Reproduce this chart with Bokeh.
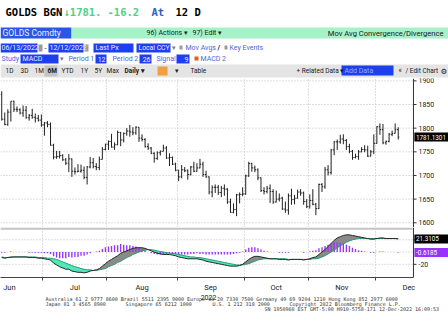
import numpy as np
import pandas as pd
from bokeh.plotting import figure
from bokeh.layouts import column
from bokeh.models import Range1d, FixedTicker, Grid, ColumnDataSource
from bokeh.core.properties import value
from bokeh.embed import file_html
from bokeh.resources import INLINE

# ---------------- data ----------------
dates = pd.bdate_range("2022-06-13", "2022-12-12")

opens = [1871, 1819, 1808, 1834, 1857, 1840, 1839, 1832, 1838, 1822, 1827, 1823, 1821, 1817,
         1807, 1811, 1808, 1764, 1739, 1740, 1742, 1733, 1726, 1735, 1709, 1708, 1709, 1711, 1696, 1718, 1727, 1719, 1717, 1734, 1755,
         1766, 1772, 1760, 1765, 1791, 1775, 1789, 1794, 1792, 1790, 1802, 1779, 1776, 1761, 1758, 1747, 1736, 1748, 1751, 1758, 1737, 1738, 1724,
         1711, 1697, 1712, 1710, 1702, 1718, 1709, 1716, 1724, 1702, 1697, 1665, 1675, 1675, 1664, 1673, 1671, 1644, 1622, 1628, 1659, 1660,
         1661, 1699, 1725, 1716, 1712, 1695, 1668, 1666, 1673, 1666, 1644, 1650, 1652, 1629, 1627, 1657, 1649, 1652, 1665, 1663, 1645,
         1634, 1647, 1639, 1630, 1681, 1676, 1712, 1706, 1754, 1771, 1771, 1777, 1774, 1761, 1751, 1738, 1740, 1750, 1755, 1754, 1741, 1750,
         1768, 1803, 1797, 1769, 1772, 1787, 1789, 1797]
highs = [1878, 1833, 1840, 1857, 1858, 1846, 1842, 1848, 1847, 1830, 1841, 1831, 1828, 1829,
         1813, 1815, 1812, 1767, 1752, 1752, 1745, 1737, 1745, 1736, 1717, 1724, 1723, 1719, 1720, 1739, 1737, 1726, 1740, 1760, 1767,
         1774, 1788, 1770, 1795, 1792, 1791, 1800, 1807, 1802, 1804, 1802, 1787, 1779, 1768, 1760, 1749, 1751, 1753, 1765, 1762, 1747, 1740, 1727,
         1712, 1722, 1718, 1713, 1720, 1729, 1726, 1735, 1729, 1710, 1698, 1679, 1681, 1680, 1678, 1681, 1673, 1651, 1641, 1661, 1664, 1675,
         1702, 1729, 1727, 1721, 1715, 1696, 1675, 1678, 1681, 1671, 1668, 1662, 1655, 1645, 1662, 1672, 1659, 1670, 1671, 1666, 1650,
         1660, 1671, 1642, 1683, 1684, 1718, 1722, 1756, 1773, 1776, 1786, 1787, 1777, 1767, 1754, 1746, 1754, 1760, 1764, 1763, 1754, 1787,
         1804, 1810, 1809, 1774, 1790, 1795, 1810, 1802]
lows = [1816, 1806, 1805, 1814, 1834, 1834, 1829, 1824, 1820, 1816, 1820, 1812, 1814, 1803,
        1784, 1802, 1763, 1734, 1735, 1736, 1731, 1722, 1707, 1697, 1702, 1707, 1706, 1692, 1681, 1715, 1715, 1711, 1711, 1734, 1753,
        1754, 1759, 1754, 1764, 1762, 1770, 1784, 1782, 1785, 1786, 1771, 1772, 1759, 1754, 1745, 1727, 1733, 1742, 1751, 1735, 1720, 1722, 1709,
        1688, 1694, 1707, 1691, 1700, 1707, 1708, 1715, 1697, 1695, 1660, 1654, 1663, 1659, 1654, 1657, 1640, 1621, 1620, 1614, 1641, 1656,
        1659, 1697, 1708, 1707, 1690, 1665, 1660, 1662, 1642, 1640, 1643, 1645, 1627, 1621, 1617, 1638, 1639, 1651, 1657, 1638, 1631,
        1630, 1637, 1616, 1629, 1665, 1672, 1700, 1702, 1743, 1754, 1767, 1766, 1754, 1747, 1733, 1736, 1733, 1749, 1749, 1739, 1740, 1745,
        1767, 1786, 1766, 1765, 1770, 1783, 1789, 1776]
closes = [1819, 1808, 1834, 1857, 1840, 1839, 1832, 1838, 1822, 1827, 1823, 1821, 1817, 1807,
          1811, 1808, 1764, 1739, 1740, 1742, 1733, 1726, 1735, 1709, 1708, 1709, 1711, 1696, 1718, 1727, 1719, 1717, 1734, 1755, 1766,
          1772, 1760, 1765, 1791, 1775, 1789, 1794, 1792, 1790, 1802, 1779, 1776, 1761, 1758, 1747, 1736, 1748, 1751, 1758, 1737, 1738, 1724, 1711,
          1697, 1712, 1710, 1702, 1718, 1709, 1716, 1724, 1702, 1697, 1665, 1675, 1675, 1664, 1673, 1671, 1644, 1622, 1628, 1659, 1660, 1661,
          1699, 1725, 1716, 1712, 1695, 1668, 1666, 1673, 1666, 1644, 1650, 1652, 1629, 1627, 1657, 1649, 1652, 1665, 1663, 1645, 1634,
          1647, 1639, 1630, 1681, 1676, 1712, 1706, 1754, 1771, 1771, 1777, 1774, 1761, 1751, 1738, 1740, 1750, 1755, 1754, 1741, 1750, 1768,
          1803, 1797, 1769, 1772, 1787, 1789, 1797, 1781.13]

macd_line = [-9, -10, -9, -8, -8, -8, -8, -8, -8, -9, -9, -9, -10, -10, -11, -12,
             -13, -18, -21, -24, -26, -28, -28, -31, -32, -33, -33, -34, -33, -31, -30,
             -29, -27, -23, -19, -15, -12, -9, -6, -2, 0, 2, 4, 6, 7, 7,
             7, 6, 4, 2, 0, -2, -3, -4, -4, -4, -5, -6, -8, -9, -10,
             -11, -11, -11, -11, -12, -13, -15, -16, -17, -18, -19, -20, -21, -22, -23,
             -23, -23, -22, -20, -16, -12, -9, -7, -7, -8, -9, -10, -11, -11, -11,
             -12, -12, -12, -13, -12, -12, -12, -12, -13, -12, -11, -9, -8, -4, 0,
             4, 9, 14, 19, 23, 25, 27, 28, 28, 27, 26, 25, 24, 23, 22,
             21, 21, 22, 23, 23, 22, 22, 22, 22, 21.3105]
signal_line = [-8, -9, -9, -9, -8, -8, -8, -8, -8, -8, -8, -8, -9, -9, -9, -10,
               -10, -11, -12, -14, -16, -18, -20, -22, -24, -25, -27, -28, -29, -29, -30,
               -30, -29, -28, -27, -24, -22, -20, -17, -15, -12, -9, -7, -4, -2, 0,
               2, 3, 4, 4, 3, 2, 1, 0, -1, -2, -2, -3, -4, -5, -6,
               -7, -8, -8, -9, -9, -10, -11, -12, -13, -14, -15, -16, -17, -18, -19,
               -20, -21, -21, -21, -20, -19, -17, -15, -13, -12, -11, -11, -11, -11, -11,
               -11, -11, -11, -12, -12, -12, -12, -12, -12, -12, -12, -11, -11, -10, -8,
               -6, -3, 0, 3, 7, 10, 13, 16, 18, 20, 21, 22, 22, 22, 22,
               22, 22, 22, 22, 22, 22, 22, 22, 22, 21.929]

month_labels = ["Jun", "Jul", "Aug", "Sep", "Oct", "Nov", "Dec"]
year_label = "2022"
price_ticks = [1600, 1650, 1700, 1750, 1800, 1850, 1900]
macd_ticks = [-20, 20]
last_price_text = "1781.1301"
last_macd_text = "21.3105"
last_hist_text = "-0.6185"

# ---------------- derived positions ----------------
n = len(closes)
idx = np.arange(n)
start = dates[0]
month_starts = pd.date_range("2022-06-01", "2023-01-01", freq="MS")
bounds = [float(np.busday_count(start.date(), d.date())) - 0.5 for d in month_starts]
centers = [(bounds[i] + bounds[i + 1]) / 2 for i in range(len(month_labels))]
inner_bounds = bounds[1:-1]

W = 448
PXW = 3.05                     # pixels per trading day
X0 = -0.4
AX = 135.0                     # x (in trading days) of the right value axis
xr = Range1d(X0, X0 + W / PXW)
SANS = "Roboto"
GRID = "#bdbdbd"
AXC = "#333333"

def right_axis(fig, ticks, y_lo, y_hi):
    fig.segment(x0=[AX], y0=[y_lo], x1=[AX], y1=[y_hi], line_color=AXC, line_width=1)
    fig.segment(x0=[AX] * len(ticks), y0=ticks, x1=[AX + 1.0] * len(ticks), y1=ticks,
                line_color=AXC, line_width=1)
    fig.text(x=[AX] * len(ticks), y=ticks, text=[str(t) for t in ticks], x_offset=5,
             text_font=value(SANS), text_font_size="7px", text_color="#222222",
             text_baseline="middle", text_align="left")

def hgrid(fig, ticks):
    fig.segment(x0=[X0] * len(ticks), y0=ticks, x1=[AX] * len(ticks), y1=ticks,
                line_color=GRID, line_dash="1 2", line_width=1)

def tag(fig, y, txt, color):
    fig.rect(x=[(AX + 0.3 + xr.end) / 2], y=[y], width=[xr.end - AX - 0.3], height=[9],
             height_units="screen", fill_color=color, line_color=None)
    fig.text(x=[AX], y=[y], text=[txt], x_offset=2.5, text_color="white",
             text_font=value(SANS), text_font_size="6.3px", text_baseline="middle", text_align="left")

# ---------------- header ----------------
h = figure(width=W, height=78, x_range=Range1d(0, W), y_range=Range1d(78, 0),
           output_backend="svg", toolbar_location=None, x_axis_location=None, y_axis_location=None,
           min_border=0, outline_line_color=None)
h.grid.visible = False

BLUE = "#1c3ff0"
boxes = [
    (0, 71, 27, 38, "#2a55e6"),
    (71, 448, 27, 38, "#a6f2c8"),
    (0, 37, 43, 52, BLUE), (38, 42, 44, 51, "#9a9a9a"),
    (48, 83, 43, 52, BLUE), (84, 88, 44, 51, "#9a9a9a"),
    (93, 133, 43, 52, BLUE), (136, 170, 43, 52, BLUE),
    (179, 182, 45, 49, "#9a9a9a"), (224, 227, 45, 49, "#9a9a9a"),
    (20, 58, 54, 63, BLUE), (95, 106, 54, 63, BLUE), (139, 151, 54, 63, BLUE), (176, 189, 54, 63, BLUE),
    (194, 198, 56, 60, "#e0601e"),
    (0, 448, 64, 77, "#e4e4e4"),
    (44, 57, 65, 76, "#c4c4c4"),
    (157, 167, 66, 75, "#f0a040"),
    (341, 393, 65, 75, BLUE),
]
for (x0, x1, y0, y1, c) in boxes:
    h.quad(left=[x0], right=[x1], top=[y0], bottom=[y1], fill_color=c, line_color=None)

LB = "#4a66e0"
DK = "#1a1a1a"
WT = "#e8eeff"
MONO = "DejaVu Sans Mono"
texts = [
    (5, 11.5, "GOLDS BGN", "black", "10.5px", MONO, "bold", "left"),
    (63, 11.5, "\u21931781.", "#4fcf86", "10.5px", MONO, "bold", "left"),
    (107, 11.5, "-16.2", "#4fcf86", "10.5px", MONO, "bold", "left"),
    (151, 11.5, "At", "#2f5fc4", "10.5px", MONO, "bold", "left"),
    (175, 11.5, "12 D", "black", "10.5px", MONO, "bold", "left"),
    (2, 32.5, "GOLDS Comdty", WT, "8.5px", SANS, "normal", "left"),
    (146, 32.5, "96) Actions \u25be", DK, "7px", SANS, "normal", "left"),
    (192, 32.5, "97) Edit \u25be", DK, "7px", SANS, "normal", "left"),
    (443, 32.5, "Mov Avg Convergence/Divergence", DK, "7.6px", SANS, "normal", "right"),
    (1, 47.5, "06/13/2022", WT, "7px", SANS, "normal", "left"),
    (44, 47.5, "-", DK, "7px", SANS, "normal", "left"),
    (49, 47.5, "12/12/2022", WT, "7px", SANS, "normal", "left"),
    (95, 47.5, "Last Px", WT, "7px", SANS, "normal", "left"),
    (138, 47.5, "Local CCY", WT, "6.8px", SANS, "normal", "left"),
    (171, 47.5, "\u25be", "#777777", "7px", SANS, "normal", "left"),
    (185, 47.5, "Mov Avgs", LB, "7px", SANS, "normal", "left"),
    (217, 47.5, "/", DK, "7px", SANS, "bold", "left"),
    (229, 47.5, "Key Events", LB, "7px", SANS, "normal", "left"),
    (1, 58.5, "Study", LB, "7px", SANS, "normal", "left"),
    (22, 58.5, "MACD", WT, "7px", SANS, "normal", "left"),
    (59, 58.5, "\u25be", "#777777", "7px", SANS, "normal", "left"),
    (68, 58.5, "Period 1", LB, "7px", SANS, "normal", "left"),
    (105, 58.5, "12", WT, "7px", SANS, "normal", "right"),
    (112, 58.5, "Period 2", LB, "7px", SANS, "normal", "left"),
    (150, 58.5, "26", WT, "7px", SANS, "normal", "right"),
    (156, 58.5, "Signal", LB, "7px", SANS, "normal", "left"),
    (188, 58.5, "9", WT, "7px", SANS, "normal", "right"),
    (200, 58.5, "MACD 2", LB, "7px", SANS, "normal", "left"),
    (5, 70.5, "1D", DK, "6.5px", SANS, "normal", "left"),
    (20, 70.5, "3D", DK, "6.5px", SANS, "normal", "left"),
    (34, 70.5, "1M", DK, "6.5px", SANS, "normal", "left"),
    (47, 70.5, "6M", DK, "6.5px", SANS, "bold", "left"),
    (61, 70.5, "YTD", DK, "6.5px", SANS, "normal", "left"),
    (80, 70.5, "1Y", DK, "6.5px", SANS, "normal", "left"),
    (94, 70.5, "5Y", DK, "6.5px", SANS, "normal", "left"),
    (106, 70.5, "Max", DK, "6.5px", SANS, "normal", "left"),
    (124, 70.5, "Daily \u25be", DK, "6.5px", SANS, "bold", "left"),
    (174, 70.5, "\u25be", DK, "6.5px", SANS, "normal", "left"),
    (190, 70.5, "Table", DK, "6.5px", SANS, "normal", "left"),
    (296, 70.5, "+ Related Data \u25be", DK, "6.5px", SANS, "normal", "left"),
    (344, 70.5, "Add Data", "#8fb0ff", "7px", SANS, "normal", "left"),
    (398, 70.5, "\u00ab", DK, "7px", SANS, "normal", "left"),
    (405, 70.5, "/ Edit Chart", DK, "6.5px", SANS, "normal", "left"),
    (440, 70.5, "\u2699", DK, "7.5px", "DejaVu Sans", "normal", "left"),
]
for (x, y, t, c, s, fnt, st, al) in texts:
    h.text(x=[x], y=[y], text=[t], text_color=c, text_font_size=s, text_font=value(fnt),
           text_font_style=st, text_align=al, text_baseline="middle")

# ---------------- price panel ----------------
PY = (1590, 1905)
p = figure(width=W, height=149, x_range=xr, y_range=Range1d(*PY),
           output_backend="svg", toolbar_location=None, x_axis_location=None, y_axis_location=None,
           min_border=0, outline_line_color=None)
p.grid.visible = False
p.add_layout(Grid(dimension=0, ticker=FixedTicker(ticks=inner_bounds),
                  grid_line_color=GRID, grid_line_dash="1 2"))
hgrid(p, price_ticks)

src = ColumnDataSource(dict(x=idx, o=opens, h=highs, l=lows, c=closes,
                            xl=idx - 0.38, xr=idx + 0.38))
BAR = "#202020"
p.segment(x0="x", y0="l", x1="x", y1="h", source=src, line_color=BAR, line_width=1)
p.segment(x0="xl", y0="o", x1="x", y1="o", source=src, line_color=BAR, line_width=1)
p.segment(x0="x", y0="c", x1="xr", y1="c", source=src, line_color=BAR, line_width=1)

right_axis(p, price_ticks, PY[0], PY[1])
tag(p, closes[-1], last_price_text, "black")

# ---------------- MACD panel ----------------
MY = (-41.5, 40)
m = figure(width=W, height=67, x_range=xr, y_range=Range1d(*MY),
           output_backend="svg", toolbar_location=None, y_axis_location=None,
           min_border_left=0, min_border_right=0, min_border_top=0, min_border_bottom=12,
           outline_line_color=None)
m.ygrid.visible = False
m.xgrid.ticker = FixedTicker(ticks=inner_bounds)
m.xgrid.grid_line_color = GRID
m.xgrid.grid_line_dash = "1 2"
hgrid(m, [-20, 0, 20])

macd_arr = np.array(macd_line, dtype=float)
sig_arr = np.array(signal_line, dtype=float)
top_arr = np.maximum(macd_arr, sig_arr)
hist_arr = macd_arr - sig_arr
msrc = ColumnDataSource(dict(x=idx, macd=macd_arr, sig=sig_arr, top=top_arr, hist=hist_arr))
m.varea(x="x", y1="sig", y2="top", source=msrc, fill_color="#8a8a8a")
m.varea(x="x", y1="macd", y2="top", source=msrc, fill_color="#4fe8b8")
m.vbar(x="x", top="hist", bottom=0, width=0.45, source=msrc, fill_color="#9933ff", line_color=None)
m.line(x="x", y="sig", source=msrc, line_color="#2a9a78", line_width=1)
m.line(x="x", y="macd", source=msrc, line_color="#262626", line_width=1)
m.quad(left=[X0], right=[AX - 0.3], bottom=[36.4], top=[40], fill_color="#c4c4c4", line_color=None)

right_axis(m, macd_ticks, MY[0], MY[1])
tag(m, macd_arr[-1], last_macd_text, "black")
tag(m, hist_arr[-1], last_hist_text, "#9933ff")

mx = m.xaxis[0]
mx.ticker = FixedTicker(ticks=centers, minor_ticks=inner_bounds)
mx.major_label_overrides = {c: lab for c, lab in zip(centers, month_labels)}
mx.bounds = (X0, AX)
mx.major_tick_line_color = None
mx.major_tick_out = 0
mx.major_tick_in = 0
mx.minor_tick_out = 3
mx.minor_tick_in = 0
mx.minor_tick_line_color = "#444444"
mx.axis_line_color = "#444444"
mx.major_label_text_font_size = "7.5px"
mx.major_label_text_font = SANS
mx.major_label_text_color = "#222222"
mx.major_label_standoff = 2

# ---------------- footer ----------------
FH = 322 - 78 - 149 - 67
f = figure(width=W, height=FH, x_range=Range1d(0, W), y_range=Range1d(FH, 0),
           output_backend="svg", toolbar_location=None, x_axis_location=None, y_axis_location=None,
           min_border=0, outline_line_color=None)
f.grid.visible = False
f.text(x=[208], y=[2.5], text=[year_label], text_font=value(SANS), text_font_size="7px",
       text_color="#222222", text_align="center", text_baseline="middle")
footer = [
    (45, 4.3, "Australia 61 2 9777 8600 Brazil 5511 2395 9000 Europe 44 20 7330 7500 Germany 49 69 9204 1210 Hong Kong 852 2977 6000"),
    (45, 9.3, "Japan 81 3 4565 8900"),
    (125, 9.3, "Singapore 65 6212 1000"),
    (212, 9.3, "U.S. 1 212 318 2000"),
    (289, 9.3, "Copyright 2022 Bloomberg Finance L.P."),
    (264, 14.5, "SN 1950960 EST  GMT-5:00 H910-5758-171 12-Dec-2022 16:09:53"),
]
for (x, y, t) in footer:
    f.text(x=[x], y=[y], text=[t], text_font=value(MONO), text_font_size="5px",
           text_color="#333333", text_align="left", text_baseline="middle")

layout = column(h, p, m, f, spacing=0)
open("out.html", "w").write(file_html(layout, INLINE))
